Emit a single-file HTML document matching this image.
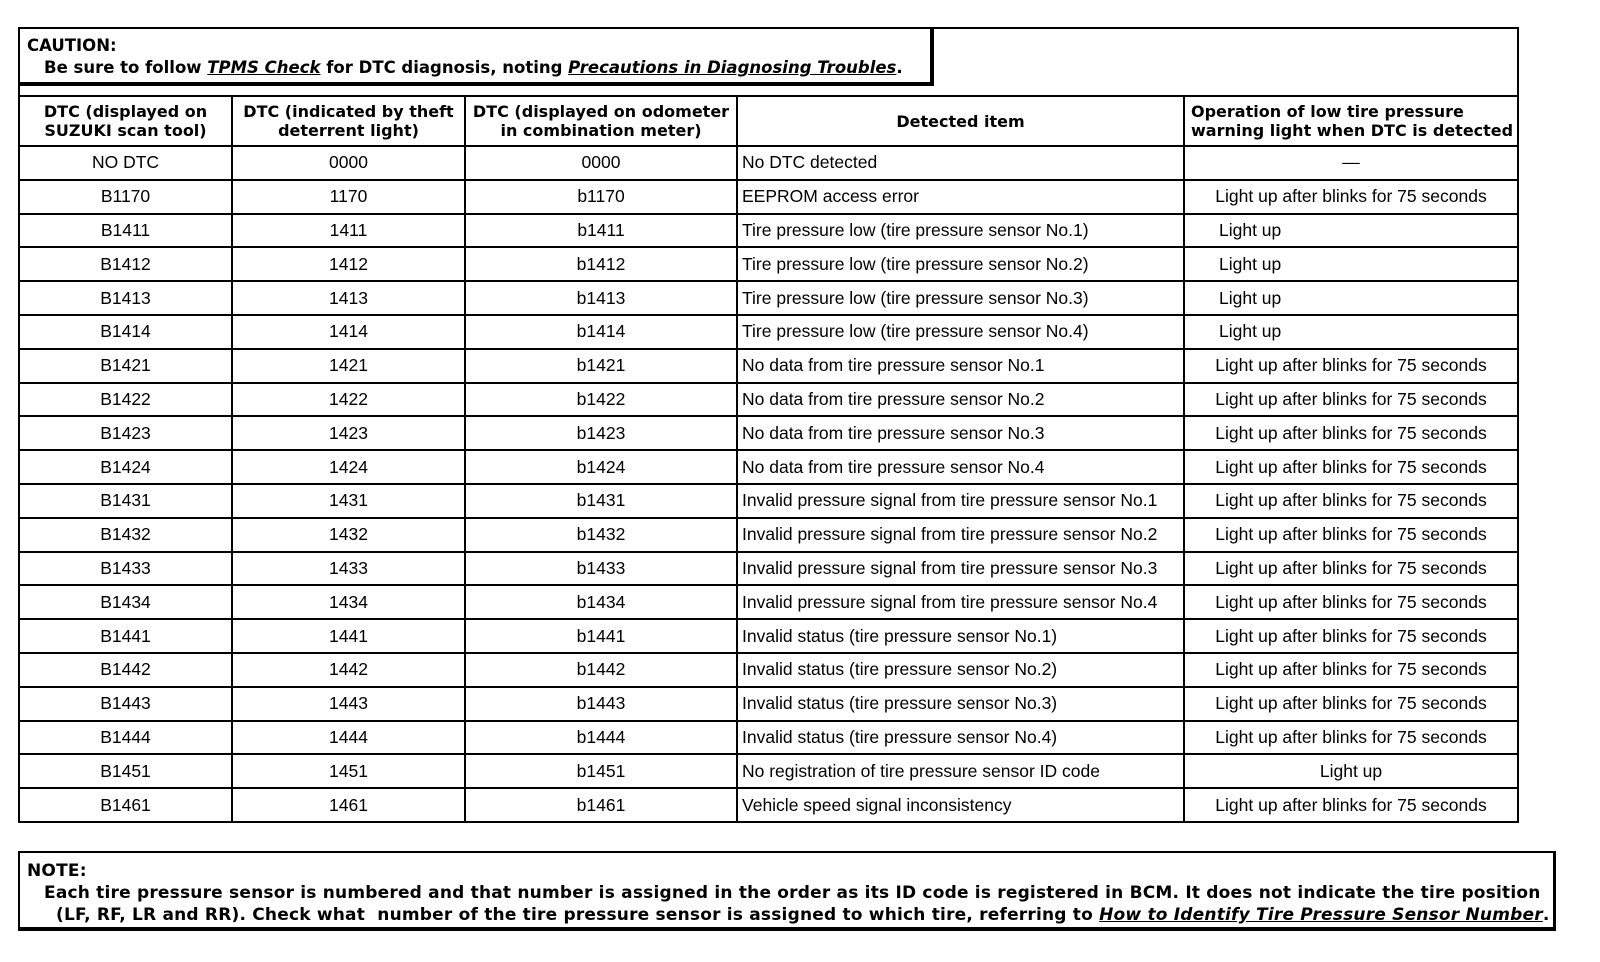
<!DOCTYPE html>
<html><head><meta charset="utf-8"><style>
body{margin:0;width:1600px;height:962px;background:#fff;position:relative;font-family:"Liberation Sans",sans-serif;color:#000;overflow:hidden}
.outer{position:absolute;left:18px;top:27px;width:1497px;height:70px;border:2px solid #000;border-bottom:none}
.caution{position:absolute;left:18px;top:27px;width:903px;height:53px;border:2px solid #000;border-right:4px solid #000;border-bottom:4px solid #000;font-family:"DejaVu Sans",sans-serif;font-weight:bold;font-size:16.5px;letter-spacing:0px;line-height:22px;padding:0 0 0 7px;box-sizing:content-box;white-space:nowrap}
table{position:absolute;left:18px;top:95px;border-collapse:collapse;table-layout:fixed;width:1499px}
td{border:2px solid #000;padding:0;font-size:17.5px;text-align:center;height:31.8px;white-space:nowrap}
th{border:2px solid #000;font-family:"DejaVu Sans",sans-serif;font-weight:bold;font-size:16px;line-height:19px;height:48px;padding:0;white-space:nowrap}
td.l{text-align:left;padding-left:4px}
.note{position:absolute;left:18px;top:851px;width:1526px;height:74px;border:2px solid #000;border-bottom:4px solid #000;border-right:3px solid #000;font-family:"DejaVu Sans",sans-serif;font-weight:bold;font-size:17px;letter-spacing:0.2px;line-height:22px;padding-left:7px;box-sizing:content-box}
.u{text-decoration:underline;font-style:italic}
</style></head><body>
<div class="outer"></div>
<div class="caution"><div style="margin-top:6px">CAUTION:</div><div style="padding-left:17px">Be sure to follow <span class="u">TPMS Check</span> for DTC diagnosis, noting <span class="u">Precautions in Diagnosing Troubles</span>.</div></div>
<table>
<colgroup><col style="width:213px"><col style="width:233px"><col style="width:272px"><col style="width:447px"><col style="width:334px"></colgroup>
<tr><th>DTC (displayed on<br>SUZUKI scan tool)</th><th>DTC (indicated by theft<br>deterrent light)</th><th>DTC (displayed on odometer<br>in combination meter)</th><th>Detected item</th><th style="text-align:left;padding-left:6px">Operation of low tire pressure<br>warning light when DTC is detected</th></tr>
<tr><td style="height:25px">NO DTC</td><td>0000</td><td>0000</td><td class="l">No DTC detected</td><td>—</td></tr>
<tr><td>B1170</td><td>1170</td><td>b1170</td><td class="l">EEPROM access error</td><td>Light up after blinks for 75 seconds</td></tr>
<tr><td>B1411</td><td>1411</td><td>b1411</td><td class="l">Tire pressure low (tire pressure sensor No.1)</td><td style="text-align:left;padding-left:34px">Light up</td></tr>
<tr><td>B1412</td><td>1412</td><td>b1412</td><td class="l">Tire pressure low (tire pressure sensor No.2)</td><td style="text-align:left;padding-left:34px">Light up</td></tr>
<tr><td>B1413</td><td>1413</td><td>b1413</td><td class="l">Tire pressure low (tire pressure sensor No.3)</td><td style="text-align:left;padding-left:34px">Light up</td></tr>
<tr><td>B1414</td><td>1414</td><td>b1414</td><td class="l">Tire pressure low (tire pressure sensor No.4)</td><td style="text-align:left;padding-left:34px">Light up</td></tr>
<tr><td>B1421</td><td>1421</td><td>b1421</td><td class="l">No data from tire pressure sensor No.1</td><td>Light up after blinks for 75 seconds</td></tr>
<tr><td>B1422</td><td>1422</td><td>b1422</td><td class="l">No data from tire pressure sensor No.2</td><td>Light up after blinks for 75 seconds</td></tr>
<tr><td>B1423</td><td>1423</td><td>b1423</td><td class="l">No data from tire pressure sensor No.3</td><td>Light up after blinks for 75 seconds</td></tr>
<tr><td>B1424</td><td>1424</td><td>b1424</td><td class="l">No data from tire pressure sensor No.4</td><td>Light up after blinks for 75 seconds</td></tr>
<tr><td>B1431</td><td>1431</td><td>b1431</td><td class="l">Invalid pressure signal from tire pressure sensor No.1</td><td>Light up after blinks for 75 seconds</td></tr>
<tr><td>B1432</td><td>1432</td><td>b1432</td><td class="l">Invalid pressure signal from tire pressure sensor No.2</td><td>Light up after blinks for 75 seconds</td></tr>
<tr><td>B1433</td><td>1433</td><td>b1433</td><td class="l">Invalid pressure signal from tire pressure sensor No.3</td><td>Light up after blinks for 75 seconds</td></tr>
<tr><td>B1434</td><td>1434</td><td>b1434</td><td class="l">Invalid pressure signal from tire pressure sensor No.4</td><td>Light up after blinks for 75 seconds</td></tr>
<tr><td>B1441</td><td>1441</td><td>b1441</td><td class="l">Invalid status (tire pressure sensor No.1)</td><td>Light up after blinks for 75 seconds</td></tr>
<tr><td>B1442</td><td>1442</td><td>b1442</td><td class="l">Invalid status (tire pressure sensor No.2)</td><td>Light up after blinks for 75 seconds</td></tr>
<tr><td>B1443</td><td>1443</td><td>b1443</td><td class="l">Invalid status (tire pressure sensor No.3)</td><td>Light up after blinks for 75 seconds</td></tr>
<tr><td>B1444</td><td>1444</td><td>b1444</td><td class="l">Invalid status (tire pressure sensor No.4)</td><td>Light up after blinks for 75 seconds</td></tr>
<tr><td>B1451</td><td>1451</td><td>b1451</td><td class="l">No registration of tire pressure sensor ID code</td><td>Light up</td></tr>
<tr><td>B1461</td><td>1461</td><td>b1461</td><td class="l">Vehicle speed signal inconsistency</td><td>Light up after blinks for 75 seconds</td></tr>
</table>
<div class="note"><div style="margin-top:7px">NOTE:</div><div style="padding-left:17px;white-space:nowrap">Each tire pressure sensor is numbered and that number is assigned in the order as its ID code is registered in BCM. It does not indicate the tire position</div><div style="padding-left:29px;white-space:nowrap">(LF, RF, LR and RR). Check what &nbsp;number of the tire pressure sensor is assigned to which tire, referring to <span class="u">How to Identify Tire Pressure Sensor Number</span>.</div></div>
</body></html>
